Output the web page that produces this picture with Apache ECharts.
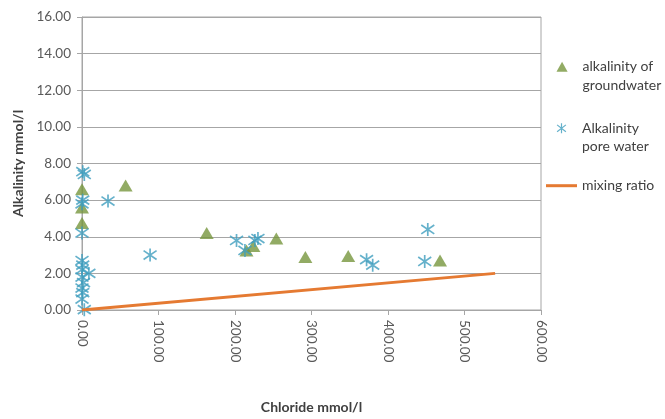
<!DOCTYPE html>
<html>
<head>
<meta charset="utf-8">
<script src="https://cdn.jsdelivr.net/npm/echarts@6/dist/echarts.min.js"></script>
<style>
  html, body { margin: 0; padding: 0; background: #ffffff; }
  #chart { width: 665px; height: 419px; }
</style>
</head>
<body>
<div id="chart"></div>
<script>
// Alkalinity of groundwater samples: [chloride mmol/l, alkalinity mmol/l]
const groundwater = [
  [57, 6.8], [0, 6.6], [0, 5.6], [0, 4.75],
  [163, 4.2], [254, 3.9], [224, 3.5], [215, 3.25],
  [292, 2.9], [348, 2.95], [468, 2.7]
];

// Alkalinity of pore water samples: [chloride mmol/l, alkalinity mmol/l]
const poreWater = [
  [1, 7.55], [3, 7.4], [1, 6.0], [0, 5.8], [34, 5.95], [0, 4.2],
  [0, 2.7], [1, 2.45], [0, 2.2], [9, 2.0], [0, 1.8], [2, 1.5],
  [0, 1.2], [1, 0.95], [0, 0.6], [3, 0.02],
  [89, 3.0], [202, 3.8], [213, 3.25], [226, 3.8], [230, 3.9],
  [372, 2.75], [380, 2.45], [448, 2.65], [452, 4.4]
];

// Conservative mixing line
const mixingRatio = [[0, 0], [540, 2.0]];

const seriesNames = ['alkalinity of\ngroundwater', 'Alkalinity\npore water', 'mixing ratio'];

const xTicks = { min: 0, max: 600, interval: 100 };
const yTicks = { min: 0, max: 16, interval: 2 };

const colGround = '#77963D';
const colPore = '#3F9DBE';
const colMix = '#E57A32';
const gridGrey = '#A6A6A6';
const FONT = 'Lato, "Open Sans", sans-serif';

// six-armed asterisk marker
const starPath = 'path://M5 0L5 10M0.6 1.6L9.4 8.4M0.6 8.4L9.4 1.6';
const triPath = 'path://M5 0L10 9L0 9Z';
const barPath = 'path://M0 0H31V3H0Z';

const LH = 18.5;
// one legend block per series; an empty leading line keeps the icon
// level with the first line of a two-line label
function legendBlock(name, firstLineY, left, extra) {
  const twoLine = name.indexOf('\n') >= 0;
  return {
    show: true,
    orient: 'vertical',
    left: left,
    top: firstLineY - (twoLine ? 1.5 : 0.5) * LH,
    padding: 0,
    itemWidth: 31,
    itemHeight: 10,
    itemGap: 0,
    selectedMode: false,
    symbolKeepAspect: true,
    data: [Object.assign({ name: name }, extra || {})],
    formatter: n => (twoLine ? '\n' + n : n),
    textStyle: {
      fontFamily: FONT,
      fontSize: 14,
      color: '#404040',
      lineHeight: LH
    }
  };
}

const chart = echarts.init(document.getElementById('chart'));
chart.setOption({
  animation: false,
  backgroundColor: '#ffffff',
  grid: {
    left: 82, right: 124, top: 17, bottom: 101,
    show: true, borderColor: gridGrey, borderWidth: 1
  },
  legend: [
    legendBlock(seriesNames[0], 66.7, 556.5, { icon: triPath }),
    legendBlock(seriesNames[1], 128.3, 556.5, {
      itemStyle: { color: 'rgba(0,0,0,0)', borderColor: colPore, borderWidth: 1.2 }
    }),
    legendBlock(seriesNames[2], 185.7, 546, { icon: barPath, itemStyle: { color: colMix } })
  ],
  xAxis: {
    type: 'value',
    min: xTicks.min, max: xTicks.max, interval: xTicks.interval,
    name: 'Chloride mmol/l',
    nameLocation: 'middle',
    nameGap: 90,
    nameTextStyle: { fontFamily: FONT, fontSize: 14, fontWeight: 'bold', color: '#404040' },
    axisLine: { show: true, lineStyle: { color: gridGrey, width: 1 } },
    axisTick: { show: true, length: 5, lineStyle: { color: gridGrey } },
    splitLine: { show: false },
    axisLabel: {
      rotate: -90,
      margin: 10,
      fontFamily: FONT, fontSize: 13.5, color: '#595959',
      formatter: v => v.toFixed(2)
    }
  },
  yAxis: {
    type: 'value',
    min: yTicks.min, max: yTicks.max, interval: yTicks.interval,
    name: 'Alkalinity mmol/l',
    nameLocation: 'middle',
    nameGap: 50,
    nameTextStyle: { fontFamily: FONT, fontSize: 14, fontWeight: 'bold', color: '#404040' },
    axisLine: { show: true, lineStyle: { color: gridGrey, width: 1 } },
    axisTick: { show: true, length: 5, lineStyle: { color: gridGrey } },
    splitLine: { show: true, lineStyle: { color: gridGrey, width: 1 } },
    axisLabel: {
      margin: 11,
      fontFamily: FONT, fontSize: 13.5, color: '#595959',
      formatter: v => v.toFixed(2)
    }
  },
  series: [
    {
      name: seriesNames[0],
      type: 'scatter',
      symbol: 'triangle',
      symbolSize: [14, 12],
      itemStyle: { color: colGround },
      data: groundwater,
      z: 2
    },
    {
      name: seriesNames[1],
      type: 'scatter',
      symbol: starPath,
      symbolSize: 13,
      itemStyle: { color: 'rgba(0,0,0,0)', borderColor: colPore, borderWidth: 1.7 },
      data: poreWater,
      z: 3
    },
    {
      name: seriesNames[2],
      type: 'line',
      symbol: 'none',
      lineStyle: { color: colMix, width: 3 },
      itemStyle: { color: colMix },
      data: mixingRatio,
      z: 4
    }
  ]
});
</script>
</body>
</html>
